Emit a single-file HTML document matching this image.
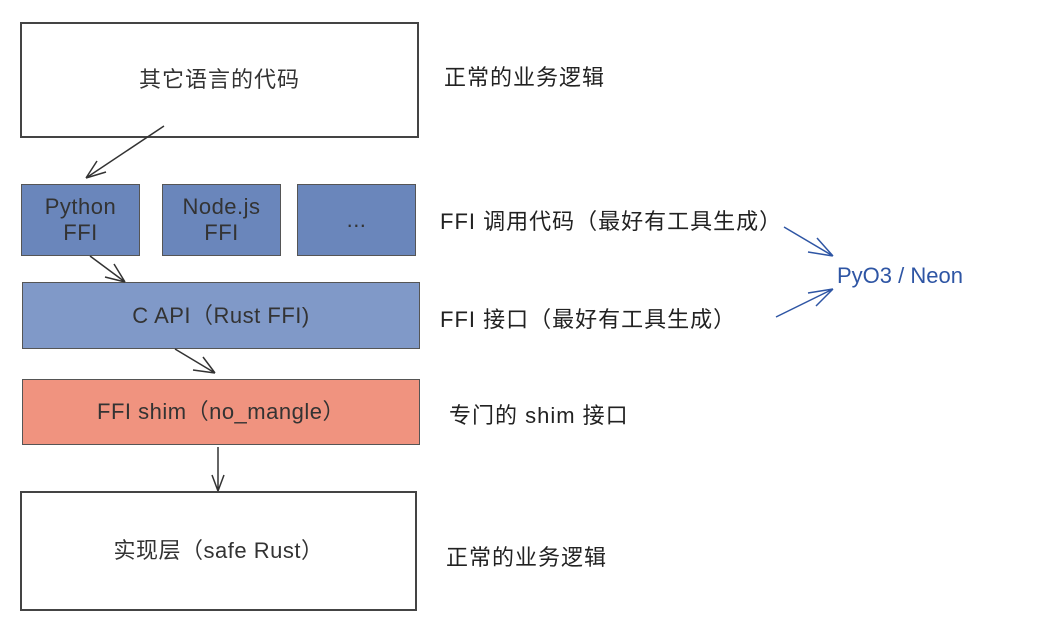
<!DOCTYPE html>
<html><head><meta charset="utf-8"><style>
body{margin:0;width:1062px;height:624px;background:#fff;overflow:hidden;font-family:"Liberation Sans","Noto Sans CJK SC",sans-serif;}
.b{position:absolute;box-sizing:border-box;display:flex;align-items:center;justify-content:center;text-align:center;color:#333;font-size:22px;line-height:26px;letter-spacing:0.5px;}
.t{position:absolute;font-size:22px;color:#222;white-space:nowrap;letter-spacing:1px;line-height:26px;}
</style></head><body>
<div class="b" style="left:20px;top:22px;width:399px;height:116px;border:2px solid #444;background:#fff;letter-spacing:1px">其它语言的代码</div>
<div class="b" style="left:21px;top:184px;width:119px;height:72px;border:1px solid #555;background:#6a86bb">Python<br>FFI</div>
<div class="b" style="left:162px;top:184px;width:119px;height:72px;border:1px solid #555;background:#6a86bb">Node.js<br>FFI</div>
<div class="b" style="left:297px;top:184px;width:119px;height:72px;border:1px solid #555;background:#6a86bb">...</div>
<div class="b" style="left:22px;top:282px;width:398px;height:67px;border:1px solid #555;background:#8099c8">C API（Rust FFI)</div>
<div class="b" style="left:22px;top:379px;width:398px;height:66px;border:1px solid #555;background:#f0937f">FFI shim（no_mangle）</div>
<div class="b" style="left:20px;top:491px;width:397px;height:120px;border:2px solid #444;background:#fff">实现层（safe Rust）</div>
<div class="t" style="left:444px;top:65px">正常的业务逻辑</div>
<div class="t" style="left:440px;top:209px">FFI 调用代码（最好有工具生成）</div>
<div class="t" style="left:440px;top:307px">FFI 接口（最好有工具生成）</div>
<div class="t" style="left:449px;top:403px">专门的 shim 接口</div>
<div class="t" style="left:446px;top:545px">正常的业务逻辑</div>
<div class="t" style="left:837px;top:263px;color:#2e55a4;letter-spacing:0">PyO3 / Neon</div>
<svg width="1062" height="624" style="position:absolute;left:0;top:0" fill="none" stroke-width="1.5">
<g stroke="#333">
<path d="M164 126L86 178M86 178L106 172M86 178L97 161"/>
<path d="M90 256L125 282M125 282L105 277M125 282L114 264"/>
<path d="M175 349L215 373M215 373L193 370M215 373L203 357"/>
<path d="M218 447L218 491M218 491L212 475M218 491L224 475"/>
</g>
<g stroke="#2e55a4">
<path d="M784 227L833 256M833 256L808 252M833 256L817 238"/>
<path d="M776 317L833 289M833 289L808 293M833 289L816 306"/>
</g>
</svg>
</body></html>
